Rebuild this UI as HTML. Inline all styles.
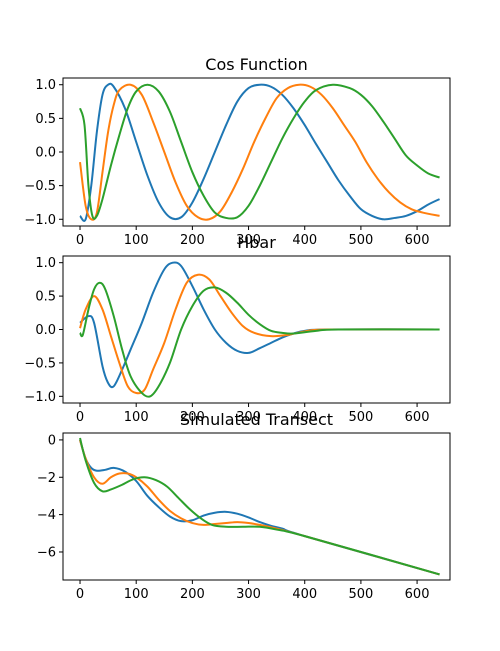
<!DOCTYPE html>
<html><head><meta charset="utf-8"><style>
body{margin:0;background:#fff;}
svg{display:block;font-family:"DejaVu Sans","Liberation Sans",sans-serif;}
</style></head><body>
<svg id="fig" width="500" height="651" viewBox="0 0 500 651"></svg>
<script>
const blueCos=[[0,-0.95],[10,-1],[20,-0.5],[30,0.3],[40,0.85],[50,1.0],[60,0.97],[80,0.65],[100,0.15],[120,-0.35],[140,-0.75],[160,-0.97],[180,-0.97],[200,-0.75],[220,-0.4],[240,0.0],[260,0.4],[280,0.75],[300,0.95],[320,1.0],[340,0.97],[360,0.85],[380,0.65],[400,0.4],[420,0.12],[440,-0.15],[460,-0.42],[480,-0.65],[500,-0.85],[520,-0.95],[540,-1.0],[560,-0.98],[580,-0.95],[600,-0.88],[620,-0.78],[640,-0.7]];
const orangeCos=[[0,-0.15],[10,-0.8],[20,-1.0],[30,-0.9],[40,-0.3],[50,0.3],[60,0.7],[70,0.92],[90,1.0],[110,0.85],[130,0.45],[150,0.0],[170,-0.45],[190,-0.8],[210,-0.97],[230,-1.0],[250,-0.88],[270,-0.6],[290,-0.25],[310,0.15],[330,0.5],[350,0.8],[370,0.95],[390,1.0],[410,0.97],[430,0.85],[450,0.65],[470,0.4],[490,0.15],[510,-0.15],[530,-0.4],[550,-0.6],[570,-0.75],[590,-0.85],[610,-0.9],[640,-0.95]];
const greenCos=[[0,0.65],[8,0.4],[15,-0.5],[22,-0.95],[30,-0.95],[40,-0.7],[55,-0.2],[70,0.25],[85,0.65],[100,0.9],[120,1.0],[140,0.9],[160,0.6],[180,0.15],[200,-0.3],[220,-0.65],[240,-0.9],[260,-0.98],[280,-0.97],[300,-0.8],[320,-0.5],[340,-0.15],[360,0.2],[380,0.5],[400,0.75],[420,0.92],[450,1.0],[480,0.95],[500,0.85],[520,0.68],[540,0.45],[560,0.2],[580,-0.05],[600,-0.2],[620,-0.32],[640,-0.38]];
const blueHbar=[[0,0.1],[15,0.2],[25,0.1],[40,-0.55],[50,-0.8],[60,-0.85],[75,-0.6],[90,-0.3],[110,0.1],[130,0.55],[150,0.9],[165,1.0],[180,0.95],[200,0.65],[220,0.3],[240,0.0],[260,-0.2],[280,-0.32],[300,-0.35],[320,-0.28],[340,-0.2],[360,-0.12],[380,-0.06],[400,-0.02],[440,0.0],[640,0]];
const orangeHbar=[[0,0.02],[10,0.3],[25,0.5],[40,0.3],[55,-0.1],[70,-0.5],[85,-0.85],[100,-0.95],[115,-0.9],[130,-0.6],[150,-0.2],[170,0.3],[190,0.7],[210,0.82],[230,0.75],[250,0.5],[270,0.25],[290,0.05],[310,-0.05],[340,-0.1],[370,-0.08],[400,-0.03],[440,0.0],[640,0]];
const greenHbar=[[0,-0.05],[5,-0.08],[15,0.3],[25,0.6],[35,0.7],[45,0.6],[60,0.2],[75,-0.3],[90,-0.7],[110,-0.95],[125,-1.0],[140,-0.85],[160,-0.5],[180,0.0],[200,0.35],[220,0.58],[240,0.63],[260,0.55],[280,0.4],[300,0.22],[320,0.08],[340,-0.02],[360,-0.05],[380,-0.06],[420,-0.02],[460,0.0],[640,0]];
const blueTr=[[0,0],[10,-1.0],[20,-1.5],[30,-1.65],[45,-1.6],[60,-1.5],[80,-1.7],[100,-2.2],[120,-3.0],[140,-3.6],[160,-4.1],[180,-4.35],[200,-4.3],[220,-4.05],[240,-3.9],[260,-3.85],[280,-3.95],[300,-4.15],[320,-4.4],[340,-4.6],[360,-4.75],[400,-5.15],[640,-7.2]];
const orangeTr=[[0,0],[10,-1.0],[25,-2.0],[40,-2.35],[55,-2.0],[70,-1.8],[85,-1.8],[100,-2.0],[120,-2.5],[140,-3.2],[160,-3.8],[180,-4.2],[200,-4.45],[220,-4.55],[240,-4.5],[260,-4.45],[280,-4.4],[300,-4.45],[320,-4.55],[350,-4.75],[400,-5.15],[640,-7.2]];
const greenTr=[[0,0.1],[10,-1.1],[25,-2.3],[40,-2.75],[55,-2.65],[75,-2.4],[95,-2.1],[115,-2.0],[135,-2.15],[155,-2.5],[175,-3.1],[195,-3.7],[215,-4.2],[235,-4.55],[260,-4.65],[290,-4.65],[320,-4.65],[350,-4.8],[400,-5.15],[640,-7.2]];
const xTicks=[0,100,200,300,400,500,600];
const yTicksCos=["-1.0","-0.5","0.0","0.5","1.0"];
const yTicksHbar=["-1.0","-0.5","0.0","0.5","1.0"];
const yTicksTr=["-6","-4","-2","0"];
const titles=["Cos Function","Hbar","Simulated Transect"];

const NS="http://www.w3.org/2000/svg";
const svg=document.getElementById('fig');
function mk(tag,attrs,parent){const e=document.createElementNS(NS,tag);for(const k in attrs)e.setAttribute(k,attrs[k]);(parent||svg).appendChild(e);return e;}
function smooth(pts){
 let d='M'+pts[0][0].toFixed(2)+','+pts[0][1].toFixed(2);
 for(let i=0;i<pts.length-1;i++){
  const p0=pts[Math.max(0,i-1)],p1=pts[i],p2=pts[i+1],p3=pts[Math.min(pts.length-1,i+2)];
  const c1=[p1[0]+(p2[0]-p0[0])/6,p1[1]+(p2[1]-p0[1])/6];
  const c2=[p2[0]-(p3[0]-p1[0])/6,p2[1]-(p3[1]-p1[1])/6];
  d+='C'+c1[0].toFixed(2)+','+c1[1].toFixed(2)+' '+c2[0].toFixed(2)+','+c2[1].toFixed(2)+' '+p2[0].toFixed(2)+','+p2[1].toFixed(2);
 }
 return d;
}
const colors=['#1f77b4','#ff7f0e','#2ca02c'];
const panels=[
 {top:78,bot:226,ymin:-1.1,ymax:1.1,yt:yTicksCos,series:[blueCos,orangeCos,greenCos],name:'cos'},
 {top:256,bot:403,ymin:-1.1,ymax:1.1,yt:yTicksHbar,series:[blueHbar,orangeHbar,greenHbar],name:'hbar'},
 {top:433,bot:580,ymin:-7.5,ymax:0.37,yt:yTicksTr,series:[blueTr,orangeTr,greenTr],name:'transect'}
];
const L=63,R=450,xmin=-30.3,xmax=658.6;
const sx=v=>L+(v-xmin)/(xmax-xmin)*(R-L);
panels.forEach((p,i)=>{
 const sy=v=>p.bot-(v-p.ymin)/(p.ymax-p.ymin)*(p.bot-p.top);
 const g=mk('g',{});
 
 
 const cid='c'+i;
 const cp=mk('clipPath',{id:cid},g);mk('rect',{x:L,y:p.top,width:R-L,height:p.bot-p.top},cp);
 p.series.forEach((s,j)=>{
  const path=mk('path',{d:smooth(s.map(d=>[sx(d[0]),sy(d[1])])),fill:'none',stroke:colors[j],'stroke-width':2,'stroke-linejoin':'round','clip-path':'url(#'+cid+')'},g);
  
  
 });
 const fr=mk('rect',{x:L,y:p.top,width:R-L,height:p.bot-p.top,fill:'none',stroke:'#000','stroke-width':1},g);
 
 
 xTicks.forEach(t=>{
  const x=sx(t);
  mk('line',{x1:x,x2:x,y1:p.bot,y2:p.bot+4,stroke:'#000'},g);
  const tx=mk('text',{x:x,y:p.bot+18,'text-anchor':'middle','font-size':13},g);tx.textContent=t;
  
  
 });
 p.yt.forEach(t=>{
  const y=sy(parseFloat(t));
  mk('line',{x1:L-4,x2:L,y1:y,y2:y,stroke:'#000'},g);
  const tx=mk('text',{x:L-7,y:y+4.5,'text-anchor':'end','font-size':13},g);tx.textContent=t.replace('-','\u2212');
  
  
 });
 const ti=mk('text',{x:(L+R)/2,y:p.top-8,'text-anchor':'middle','font-size':16},g);ti.textContent=titles[i];
 
 
});
</script>
</body></html>
